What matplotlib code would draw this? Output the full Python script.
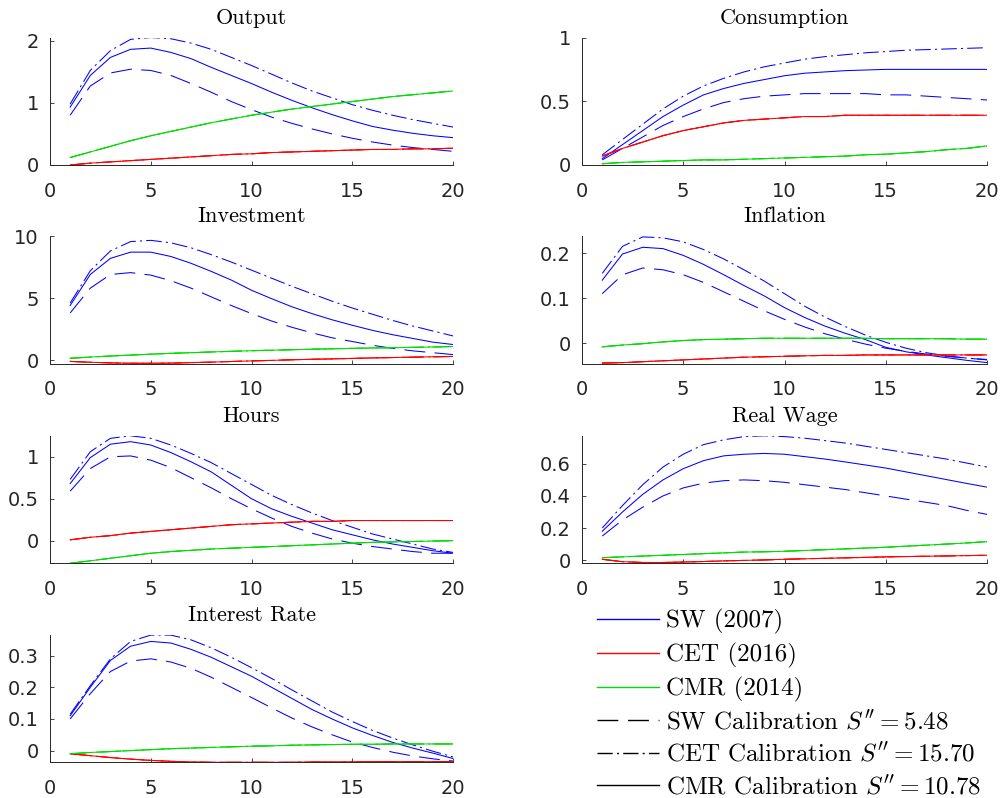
import matplotlib
matplotlib.use('Agg')
import matplotlib.pyplot as plt
from matplotlib.lines import Line2D
from matplotlib.ticker import FuncFormatter

plt.rcParams['mathtext.fontset'] = 'cm'
plt.rcParams['axes.unicode_minus'] = False

quarters = list(range(1, 21))

# impulse responses, quarters 1..20
# blue = SW (2007) model under the three calibrations, red = CET (2016), green = CMR (2014)
output_sw_dash = [0.80, 1.27, 1.48, 1.54, 1.52, 1.44, 1.31, 1.17, 1.02, 0.89,
                  0.77, 0.67, 0.58, 0.50, 0.43, 0.37, 0.32, 0.28, 0.25, 0.22]
output_sw_dashdot = [0.98, 1.52, 1.84, 2.02, 2.05, 2.03, 1.96, 1.86, 1.73, 1.60,
                     1.46, 1.32, 1.19, 1.08, 0.97, 0.88, 0.80, 0.73, 0.67, 0.61]
output_sw_solid = [0.93, 1.44, 1.73, 1.86, 1.88, 1.81, 1.71, 1.57, 1.44, 1.31,
                   1.17, 1.04, 0.92, 0.81, 0.71, 0.62, 0.56, 0.51, 0.47, 0.44]
output_cet = [0.00, 0.03, 0.05, 0.07, 0.09, 0.11, 0.13, 0.15, 0.17, 0.18,
              0.20, 0.21, 0.22, 0.23, 0.24, 0.25, 0.25, 0.26, 0.26, 0.27]
output_cmr = [0.12, 0.21, 0.30, 0.39, 0.47, 0.54, 0.61, 0.68, 0.74, 0.80,
              0.85, 0.90, 0.94, 0.98, 1.02, 1.06, 1.10, 1.13, 1.16, 1.19]

cons_sw_dash = [0.04, 0.13, 0.22, 0.31, 0.38, 0.44, 0.49, 0.52, 0.54, 0.55,
                0.56, 0.56, 0.56, 0.56, 0.55, 0.55, 0.54, 0.53, 0.52, 0.51]
cons_sw_dashdot = [0.08, 0.20, 0.32, 0.44, 0.54, 0.62, 0.68, 0.73, 0.77, 0.80,
                   0.83, 0.85, 0.865, 0.88, 0.89, 0.90, 0.905, 0.91, 0.915, 0.92]
cons_sw_solid = [0.05, 0.16, 0.27, 0.38, 0.47, 0.55, 0.60, 0.64, 0.67, 0.70,
                 0.72, 0.73, 0.74, 0.745, 0.75, 0.75, 0.75, 0.75, 0.75, 0.75]
cons_cet = [0.07, 0.13, 0.18, 0.23, 0.27, 0.30, 0.33, 0.35, 0.36, 0.37,
            0.38, 0.38, 0.39, 0.39, 0.39, 0.39, 0.39, 0.39, 0.39, 0.39]
cons_cmr = [0.01, 0.02, 0.025, 0.03, 0.035, 0.04, 0.04, 0.045, 0.05, 0.055,
            0.06, 0.065, 0.07, 0.08, 0.085, 0.095, 0.105, 0.12, 0.13, 0.15]

inv_sw_dash = [3.8, 5.8, 6.9, 7.05, 6.85, 6.4, 5.8, 5.1, 4.4, 3.75,
               3.15, 2.65, 2.2, 1.8, 1.5, 1.2, 0.95, 0.75, 0.6, 0.45]
inv_sw_dashdot = [4.6, 7.2, 8.8, 9.55, 9.65, 9.45, 9.05, 8.5, 7.9, 7.25,
                  6.6, 5.95, 5.35, 4.75, 4.2, 3.7, 3.2, 2.75, 2.35, 1.95]
inv_sw_solid = [4.4, 6.9, 8.2, 8.7, 8.7, 8.35, 7.8, 7.15, 6.45, 5.63,
                4.95, 4.3, 3.75, 3.25, 2.81, 2.4, 2.05, 1.75, 1.45, 1.26]
inv_cet = [-0.1, -0.17, -0.22, -0.25, -0.25, -0.24, -0.2, -0.16, -0.11, -0.06,
           -0.02, 0.03, 0.07, 0.1, 0.14, 0.18, 0.21, 0.24, 0.27, 0.3]
inv_cmr = [0.15, 0.25, 0.33, 0.41, 0.48, 0.55, 0.6, 0.66, 0.71, 0.76,
           0.8, 0.84, 0.88, 0.91, 0.95, 0.98, 1.0, 1.03, 1.06, 1.1]

infl_sw_dash = [0.11, 0.152, 0.167, 0.163, 0.152, 0.135, 0.114, 0.093, 0.072, 0.053,
                0.036, 0.021, 0.009, -0.002, -0.011, -0.018, -0.024, -0.029, -0.033, -0.037]
infl_sw_dashdot = [0.155, 0.215, 0.236, 0.234, 0.225, 0.208, 0.187, 0.163, 0.138, 0.11,
                   0.082, 0.058, 0.037, 0.018, 0.002, -0.011, -0.021, -0.028, -0.033, -0.036]
infl_sw_solid = [0.14, 0.198, 0.213, 0.21, 0.195, 0.175, 0.152, 0.128, 0.105, 0.079,
                 0.057, 0.038, 0.022, 0.008, -0.009, -0.019, -0.026, -0.032, -0.038, -0.043]
infl_cet = [-0.044, -0.043, -0.041, -0.039, -0.037, -0.035, -0.033, -0.031, -0.030, -0.029,
            -0.028, -0.027, -0.027, -0.026, -0.026, -0.026, -0.026, -0.026, -0.026, -0.026]
infl_cmr = [-0.008, -0.004, -0.001, 0.003, 0.006, 0.008, 0.009, 0.010, 0.011, 0.011,
            0.011, 0.011, 0.011, 0.011, 0.010, 0.010, 0.010, 0.010, 0.009, 0.009]

hours_sw_dash = [0.59, 0.86, 1.0, 1.01, 0.96, 0.87, 0.75, 0.63, 0.5, 0.38,
                 0.27, 0.17, 0.09, 0.02, -0.03, -0.07, -0.1, -0.13, -0.15, -0.15]
hours_sw_dashdot = [0.73, 1.06, 1.22, 1.25, 1.22, 1.14, 1.04, 0.93, 0.8, 0.67,
                    0.54, 0.43, 0.33, 0.24, 0.16, 0.08, 0.02, -0.04, -0.1, -0.14]
hours_sw_solid = [0.68, 0.99, 1.15, 1.18, 1.14, 1.05, 0.94, 0.82, 0.66, 0.5,
                  0.38, 0.29, 0.21, 0.13, 0.07, 0.01, -0.04, -0.08, -0.12, -0.15]
hours_cet = [0.01, 0.04, 0.06, 0.09, 0.11, 0.13, 0.15, 0.17, 0.19, 0.2,
             0.21, 0.22, 0.23, 0.23, 0.24, 0.24, 0.24, 0.24, 0.24, 0.24]
hours_cmr = [-0.27, -0.24, -0.21, -0.18, -0.15, -0.13, -0.115, -0.1, -0.09, -0.08,
             -0.07, -0.06, -0.05, -0.04, -0.03, -0.02, -0.015, -0.01, -0.005, 0.0]

wage_sw_dash = [0.15, 0.25, 0.33, 0.40, 0.45, 0.48, 0.495, 0.5, 0.495, 0.485,
                0.47, 0.455, 0.44, 0.42, 0.4, 0.38, 0.36, 0.34, 0.31, 0.285]
wage_sw_dashdot = [0.2, 0.34, 0.47, 0.58, 0.66, 0.72, 0.75, 0.77, 0.775, 0.77,
                   0.76, 0.745, 0.73, 0.71, 0.69, 0.67, 0.65, 0.63, 0.605, 0.58]
wage_sw_solid = [0.18, 0.3, 0.41, 0.5, 0.57, 0.62, 0.65, 0.66, 0.665, 0.66,
                 0.645, 0.63, 0.612, 0.593, 0.574, 0.55, 0.526, 0.502, 0.478, 0.455]
wage_cet = [0.005, -0.01, -0.015, -0.015, -0.012, -0.009, -0.005, -0.002, 0.001, 0.005,
            0.008, 0.011, 0.014, 0.017, 0.02, 0.022, 0.024, 0.026, 0.028, 0.03]
wage_cmr = [0.015, 0.02, 0.025, 0.03, 0.035, 0.04, 0.045, 0.05, 0.052, 0.055,
            0.06, 0.065, 0.07, 0.075, 0.08, 0.087, 0.093, 0.1, 0.107, 0.115]

rate_sw_dash = [0.1, 0.18, 0.25, 0.283, 0.29, 0.28, 0.26, 0.232, 0.2, 0.168,
                0.135, 0.103, 0.075, 0.05, 0.027, 0.01, -0.005, -0.017, -0.026, -0.033]
rate_sw_dashdot = [0.115, 0.205, 0.29, 0.345, 0.365, 0.365, 0.35, 0.325, 0.295, 0.262,
                   0.228, 0.192, 0.157, 0.122, 0.092, 0.064, 0.04, 0.018, -0.002, -0.02]
rate_sw_solid = [0.11, 0.2, 0.285, 0.33, 0.345, 0.34, 0.32, 0.295, 0.265, 0.235,
                 0.2, 0.165, 0.13, 0.1, 0.072, 0.048, 0.026, 0.008, -0.008, -0.025]
rate_cet = [-0.01, -0.016, -0.022, -0.027, -0.031, -0.034, -0.036, -0.037, -0.037, -0.037,
            -0.037, -0.037, -0.036, -0.036, -0.036, -0.035, -0.035, -0.035, -0.035, -0.035]
rate_cmr = [-0.01, -0.006, -0.003, 0.0, 0.003, 0.006, 0.008, 0.01, 0.012, 0.014,
            0.015, 0.017, 0.018, 0.019, 0.02, 0.02, 0.021, 0.021, 0.021, 0.021]

titles = ['Output', 'Consumption', 'Investment', 'Inflation',
          'Hours', 'Real Wage', 'Interest Rate']
sw_series = [
    (output_sw_dash, output_sw_dashdot, output_sw_solid),
    (cons_sw_dash, cons_sw_dashdot, cons_sw_solid),
    (inv_sw_dash, inv_sw_dashdot, inv_sw_solid),
    (infl_sw_dash, infl_sw_dashdot, infl_sw_solid),
    (hours_sw_dash, hours_sw_dashdot, hours_sw_solid),
    (wage_sw_dash, wage_sw_dashdot, wage_sw_solid),
    (rate_sw_dash, rate_sw_dashdot, rate_sw_solid),
]
cet_series = [output_cet, cons_cet, inv_cet, infl_cet, hours_cet, wage_cet, rate_cet]
cmr_series = [output_cmr, cons_cmr, inv_cmr, infl_cmr, hours_cmr, wage_cmr, rate_cmr]

ylims = [(0, 2.05), (0, 1), (-0.27, 10), (-0.045, 0.238),
         (-0.27, 1.25), (-0.02, 0.775), (-0.037, 0.366)]
yticks = [[0, 1, 2], [0, 0.5, 1], [0, 5, 10], [0, 0.1, 0.2],
          [0, 0.5, 1], [0, 0.2, 0.4, 0.6], [0, 0.1, 0.2, 0.3]]

# line styles for the three calibrations: SW, CET, CMR
DASH = (0, (20, 9))
DASHDOT = (0, (15, 4, 2, 4))
calibStyles = [DASH, DASHDOT, '-']
BLUE, RED, GREEN = '#0000ff', '#ff0000', '#00dd00'
LW = 0.75
AXCOLOR = '#262626'

W, H = 1001.0, 798.0
colLeft = [50 / W, 582 / W]
colWidth = [403 / W, 405 / W]
rowBottom = [165, 363.5, 563.3, 762.3]
axHeight = 127.5 / H


def styleAxes(ax, ticks, ylim):
    ax.set_xlim(0, 20)
    ax.set_ylim(*ylim)
    ax.set_xticks([0, 5, 10, 15, 20])
    ax.set_yticks(ticks)
    fmt = FuncFormatter(lambda v, pos: '%g' % v)
    ax.yaxis.set_major_formatter(fmt)
    ax.xaxis.set_major_formatter(fmt)
    for side in ['top', 'right']:
        ax.spines[side].set_visible(False)
    for side in ['left', 'bottom']:
        ax.spines[side].set_color(AXCOLOR)
        ax.spines[side].set_linewidth(0.7)
    ax.tick_params(direction='in', length=3, width=0.6, colors=AXCOLOR,
                   labelsize=14)
    ax.tick_params(axis='x', pad=12)
    ax.tick_params(axis='y', pad=8)


fig = plt.figure(figsize=(W / 100, H / 100), dpi=100, facecolor='white')

for i, title in enumerate(titles):
    row, col = i // 2, i % 2
    ax = fig.add_axes([colLeft[col], 1 - rowBottom[row] / H,
                       colWidth[col], axHeight])
    for ls, y in zip(calibStyles, sw_series[i]):
        ax.plot(quarters, y, color=BLUE, lw=LW, linestyle=ls)
    for ls in calibStyles:
        ax.plot(quarters, cet_series[i], color=RED, lw=LW, linestyle=ls)
    for ls in calibStyles:
        ax.plot(quarters, cmr_series[i], color=GREEN, lw=LW, linestyle=ls)
    styleAxes(ax, yticks[i], ylims[i])
    ax.set_title(title, fontfamily='cmr10', fontsize=16, pad=10)

# legend: model colours first, then calibration line styles
legLW = 1.0
handles = [Line2D([], [], color=BLUE, lw=legLW),
           Line2D([], [], color=RED, lw=legLW),
           Line2D([], [], color=GREEN, lw=legLW),
           Line2D([], [], color='k', lw=legLW, linestyle=(0, (15, 7))),
           Line2D([], [], color='k', lw=legLW, linestyle=(0, (11, 3, 1.5, 3))),
           Line2D([], [], color='k', lw=legLW)]
labels = ['SW (2007)', 'CET (2016)', 'CMR (2014)',
          r"SW Calibration $S'' = 5.48$",
          r"CET Calibration $S'' = 15.70$",
          r"CMR Calibration $S'' = 10.78$"]
fig.legend(handles, labels, loc='upper left', bbox_to_anchor=(0.5964, 0.2365),
           frameon=False, borderpad=0, borderaxespad=0, handlelength=2.5,
           handletextpad=0.28, labelspacing=0.345,
           prop={'family': 'cmr10', 'size': 18})

fig.savefig('out.png', dpi=100, facecolor='white')
